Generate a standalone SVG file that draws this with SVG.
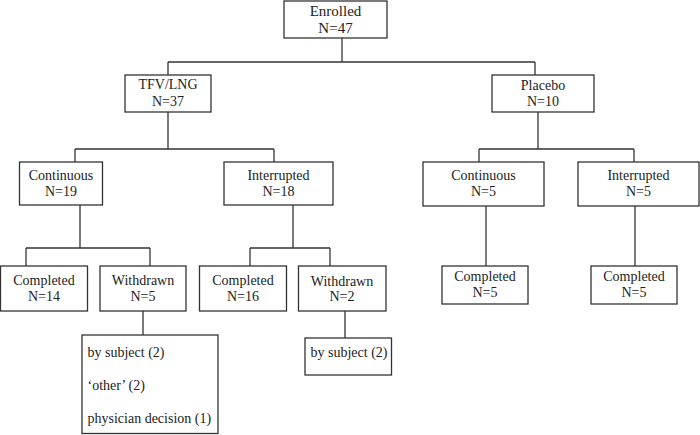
<svg xmlns="http://www.w3.org/2000/svg" width="700" height="435" viewBox="0 0 700 435">
<style>
rect{fill:#fff;stroke:#333;stroke-width:1.3}
text{font-family:'Liberation Serif','DejaVu Serif',serif;font-size:14px;fill:#222;text-anchor:middle}
.l{text-anchor:start}
#connectors line{stroke:#333;stroke-width:1.3}
</style>
<rect x="0" y="0" width="700" height="435" style="stroke:none"/>
<g id="connectors">
<line x1="342" y1="38" x2="342" y2="62"/>
<line x1="168" y1="62" x2="535" y2="62"/>
<line x1="168" y1="62" x2="168" y2="75"/>
<line x1="535" y1="62" x2="535" y2="75"/>
<line x1="168" y1="112" x2="168" y2="149"/>
<line x1="75" y1="149" x2="274" y2="149"/>
<line x1="75" y1="149" x2="75" y2="162"/>
<line x1="274" y1="149" x2="274" y2="162"/>
<line x1="538" y1="112" x2="538" y2="149"/>
<line x1="479" y1="149" x2="634" y2="149"/>
<line x1="479" y1="149" x2="479" y2="162"/>
<line x1="634" y1="149" x2="634" y2="162"/>
<line x1="80" y1="205" x2="80" y2="248"/>
<line x1="26" y1="248" x2="150" y2="248"/>
<line x1="26" y1="248" x2="26" y2="266"/>
<line x1="150" y1="248" x2="150" y2="266"/>
<line x1="293" y1="205" x2="293" y2="248"/>
<line x1="250" y1="248" x2="330" y2="248"/>
<line x1="250" y1="248" x2="250" y2="266"/>
<line x1="330" y1="248" x2="330" y2="266"/>
<line x1="143" y1="311" x2="143" y2="335"/>
<line x1="345" y1="311" x2="345" y2="338"/>
<line x1="486" y1="206" x2="486" y2="266"/>
<line x1="635" y1="206" x2="635" y2="266"/>
</g>
<g id="enrolled"><rect x="284" y="1" width="103" height="37"/><text x="335.5" y="16" style="font-size:15px">Enrolled</text><text x="335.5" y="33" style="font-size:15px">N=47</text></g>
<g id="tfv"><rect x="125" y="75" width="86" height="37"/><text x="168" y="89">TFV/LNG</text><text x="168" y="105.5">N=37</text></g>
<g id="placebo"><rect x="492" y="75" width="102" height="37"/><text x="543" y="90">Placebo</text><text x="543" y="105.5">N=10</text></g>
<g id="cont19"><rect x="19.5" y="162" width="83" height="43"/><text x="61" y="180">Continuous</text><text x="61" y="195.5">N=19</text></g>
<g id="int18"><rect x="224" y="162" width="109" height="43"/><text x="278.5" y="180">Interrupted</text><text x="278.5" y="195.5">N=18</text></g>
<g id="cont5"><rect x="423" y="162" width="121" height="44"/><text x="483.5" y="180">Continuous</text><text x="483.5" y="195.5">N=5</text></g>
<g id="int5"><rect x="578" y="162" width="121" height="44"/><text x="638.5" y="180">Interrupted</text><text x="638.5" y="195.5">N=5</text></g>
<g id="comp14"><rect x="0.5" y="266" width="87" height="45"/><text x="44" y="284.5">Completed</text><text x="44" y="300.5">N=14</text></g>
<g id="with5"><rect x="100" y="266" width="86" height="45"/><text x="143" y="285">Withdrawn</text><text x="143" y="300.5">N=5</text></g>
<g id="comp16"><rect x="199.5" y="266" width="87" height="45"/><text x="243" y="284.5">Completed</text><text x="243" y="300.5">N=16</text></g>
<g id="with2"><rect x="298.5" y="266" width="87.5" height="45"/><text x="342" y="285.5">Withdrawn</text><text x="342" y="300.5">N=2</text></g>
<g id="compP1"><rect x="442" y="266" width="86" height="38"/><text x="485" y="281">Completed</text><text x="485" y="296.5">N=5</text></g>
<g id="compP2"><rect x="591" y="266" width="86" height="38"/><text x="634" y="281">Completed</text><text x="634" y="296.5">N=5</text></g>
<g id="reasons5"><rect x="82" y="335" width="136" height="98.5"/><text class="l" x="87.5" y="357">by subject (2)</text><text class="l" x="87.5" y="390">‘other’ (2)</text><text class="l" x="87.5" y="423">physician decision (1)</text></g>
<g id="reasons2"><rect x="305" y="338" width="86.5" height="37"/><text class="l" x="310.5" y="357">by subject (2)</text></g>
</svg>
